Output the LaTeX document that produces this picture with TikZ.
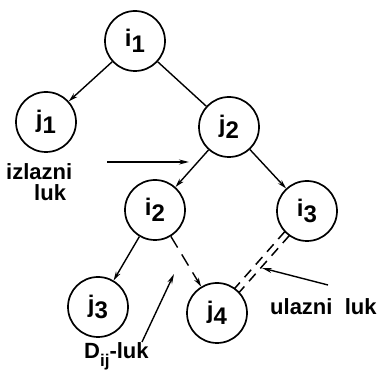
\documentclass[tikz,border=0pt]{standalone}
\usepackage{fontspec}
\setmainfont{Liberation Sans}
\usetikzlibrary{arrows.meta,calc}
\newcommand{\lab}[2]{#1\raisebox{-0.5ex}{#2}}
\tikzset{
  vert/.style={circle, draw, line width=1.7pt, minimum size=60pt, inner sep=0pt, font=\bfseries\fontsize{24}{24}\selectfont},
  edge/.style={line width=1.4pt},
  arr/.style={edge, -{Stealth[length=9pt,width=5pt]}},
  lbl/.style={font=\bfseries\fontsize{22}{24}\selectfont, inner sep=0pt, align=center},
  pointer/.style={line width=1.4pt, -{Stealth[length=10pt,width=5pt]}},
  dd/.style={line width=1.5pt, dash pattern=on 10pt off 7pt}
}
\begin{document}
\begin{tikzpicture}[x=1pt,y=-1pt]
\useasboundingbox (0,0) rectangle (392,377);
\node[vert] (i1) at (135,41) {\lab{i}{1}};
\node[vert] (j1) at (46,122) {\lab{j}{1}};
\node[vert] (j2) at (229,127) {\lab{j}{2}};
\node[vert] (i2) at (155,210) {\lab{i}{2}};
\node[vert] (i3) at (307,211) {\lab{i}{3}};
\node[vert] (j3) at (98,307) {\lab{j}{3}};
\node[vert] (j4) at (217,313) {\lab{j}{4}};

\draw[arr] (i1) -- (j1);
\draw[edge] (i1) -- (j2);
\draw[arr] (j2) -- (i2);
\draw[arr] (j2) -- (i3);
\draw[arr] (i2) -- (j3);
\draw[arr, dash pattern=on 13pt off 8pt] (i2) -- (j4);

\coordinate (ds) at ($(i3)!30pt!(j4)$);
\coordinate (de) at ($(j4)!30pt!(i3)$);
\draw[dd] ($(ds)!3pt!90:(de)$) -- ($(de)!3pt!-90:(ds)$);
\draw[dd] ($(ds)!3pt!-90:(de)$) -- ($(de)!3pt!90:(ds)$);

\node[lbl, anchor=west] (izl) at (6,172) {izlazni};
\node[lbl, anchor=west] (izl2) at (34,193) {luk};
\coordinate (a1s) at (107,162);
\coordinate (a1e) at (189,162);
\draw[pointer] (a1s) -- (a1e);

\node[lbl, anchor=west] (ul) at (270,307) {ulazni\ \ luk};
\coordinate (a2s) at (328,285);
\coordinate (a2e) at (262,268);
\draw[pointer] (a2s) -- (a2e);

\node[lbl, anchor=west] (dl) at (84,356) {D\raisebox{-0.7ex}{\fontsize{17}{17}\selectfont ij}-luk};
\coordinate (a3s) at (142,342);
\coordinate (a3e) at (174,274);
\draw[pointer] (a3s) -- (a3e);
\end{tikzpicture}
\end{document}
